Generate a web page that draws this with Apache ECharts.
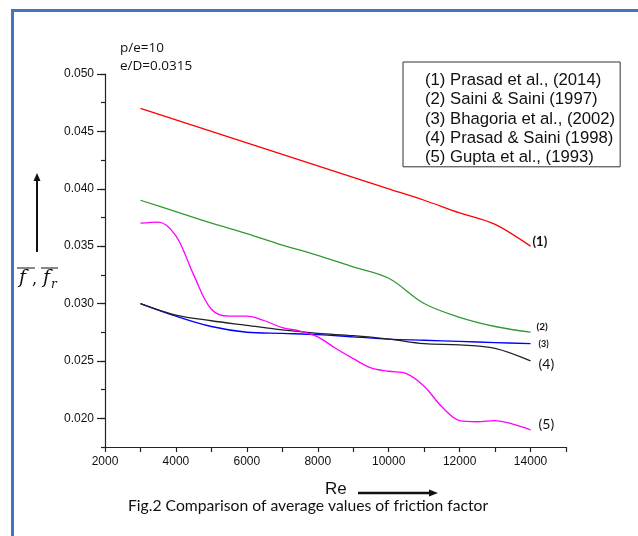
<!DOCTYPE html>
<html lang="en">
<head>
    <meta charset="UTF-8">
    <title>Comparison of average values of friction factor</title>
    <style type="text/css">
        *{
            margin: 0;
            padding: 0;
        }
        body{
            background: #fff;
        }
        #main{
            width: 638px;
            height: 536px;
        }
    </style>
</head>
<body>
    <div id="main"></div>
    <script src="https://cdn.jsdelivr.net/npm/echarts@6/dist/echarts.min.js"></script>
    <script type="text/javascript">
        // data
        var seriesNames = ['(1) Prasad et al., (2014)', '(2) Saini & Saini (1997)', '(3) Bhagoria et al., (2002)', '(4) Prasad & Saini (1998)', '(5) Gupta et al., (1993)'];
        var endTags = ['(1)', '(2)', '(3)', '(4)', '(5)'];
        var reValues = [3000, 4000, 5000, 6000, 7000, 8000, 9000, 10000, 11000, 12000, 13000, 14000];
        var prasad2014 = [0.0470, 0.0460, 0.0450, 0.0440, 0.0430, 0.0420, 0.0410, 0.0400, 0.0390, 0.0379, 0.0369, 0.0350];
        var saini1997 = [0.0390, 0.0380, 0.0370, 0.0361, 0.0351, 0.0342, 0.0332, 0.0322, 0.0300, 0.0288, 0.0280, 0.0275];
        var bhagoria2002 = [0.0300, 0.0289, 0.0280, 0.0275, 0.0274, 0.0273, 0.0271, 0.0269, 0.0268, 0.0267, 0.0266, 0.0265];
        var prasad1998 = [0.0300, 0.0290, 0.0285, 0.0281, 0.0277, 0.0274, 0.0272, 0.0269, 0.0265, 0.0264, 0.0261, 0.0250];
        // Gupta curve has more wiggles, so it is read every 500
        var guptaRe = [3000, 3500, 4000, 4500, 5000, 5500, 6000, 6500, 7000, 7500, 8000, 8500, 9000, 9500, 10000, 10500, 11000, 11500, 12000, 12500, 13000, 13500, 14000];
        var gupta1993 = [0.0370, 0.0371, 0.0359, 0.0325, 0.0295, 0.0289, 0.0289, 0.0285, 0.0279, 0.0276, 0.0271, 0.0261, 0.0252, 0.0244, 0.0241, 0.0239, 0.0228, 0.0210, 0.0198, 0.0197, 0.0198, 0.0195, 0.0190];
        var yMajor = [0.020, 0.025, 0.030, 0.035, 0.040, 0.045, 0.050];

        function pairs(xs, ys) {
            return xs.map(function (x, i) { return [x, ys[i]]; });
        }

        var lineColors = ['#ff0000', '#339933', '#0000ff', '#222222', '#ff00ff'];
        var tagStyle = [
            {fontSize: 13, fontWeight: 'bold', offset: [2, -4]},
            {fontSize: 10, fontWeight: 'bold', offset: [6, -5]},
            {fontSize: 9, fontWeight: 'bold', offset: [8, 0]},
            {fontSize: 14, fontWeight: 'normal', offset: [8, 4]},
            {fontSize: 14, fontWeight: 'normal', offset: [8, -5]}
        ];
        var allData = [
            pairs(reValues, prasad2014),
            pairs(reValues, saini1997),
            pairs(reValues, bhagoria2002),
            pairs(reValues, prasad1998),
            pairs(guptaRe, gupta1993)
        ];

        var series = allData.map(function (d, i) {
            return {
                name: seriesNames[i],
                type: 'line',
                data: d,
                smooth: 0.35,
                showSymbol: false,
                symbol: 'none',
                lineStyle: {color: lineColors[i], width: 1.3},
                itemStyle: {color: lineColors[i]},
                endLabel: {
                    show: true,
                    formatter: endTags[i],
                    distance: 0,
                    offset: tagStyle[i].offset,
                    fontFamily: 'Lato',
                    fontSize: tagStyle[i].fontSize,
                    fontWeight: tagStyle[i].fontWeight,
                    color: '#111'
                }
            };
        });

        var myChart = echarts.init(document.getElementById('main'));

        var option = {
            animation: false,
            backgroundColor: '#fff',
            grid: {
                left: 105,
                right: 72,
                top: 74,
                bottom: 89
            },
            legend: {
                orient: 'vertical',
                left: 403,
                top: 62,
                itemWidth: 0,
                itemHeight: 0,
                itemGap: 2.2,
                padding: [10, 5, 1, 16],
                borderColor: '#333',
                borderWidth: 1,
                selectedMode: false,
                textStyle: {
                    fontFamily: 'Liberation Sans',
                    fontSize: 16.7,
                    color: '#111'
                },
                data: seriesNames
            },
            xAxis: {
                type: 'value',
                min: 2000,
                max: 15000,
                interval: 1000,
                splitLine: {show: false},
                axisLine: {lineStyle: {color: '#222', width: 1.2}},
                axisTick: {length: 5, lineStyle: {color: '#222', width: 1.2}},
                axisLabel: {
                    margin: 9,
                    fontFamily: 'Liberation Sans',
                    fontSize: 12,
                    color: '#111',
                    formatter: function (v) {
                        return (v % 2000 === 0 && v < 15000) ? String(v) : '';
                    }
                }
            },
            yAxis: [{
                type: 'value',
                min: 0.0175,
                max: 0.050,
                interval: 0.0025,
                splitLine: {show: false},
                axisLine: {show: true, lineStyle: {color: '#222', width: 1.2}},
                axisTick: {length: 4, lineStyle: {color: '#222', width: 1.2}},
                axisLabel: {
                    margin: 11,
                    fontFamily: 'Liberation Sans',
                    fontSize: 12,
                    color: '#111',
                    formatter: function (v) {
                        return Math.round(v * 10000) % 50 === 0 ? v.toFixed(3) : '';
                    }
                }
            }, {
                type: 'value',
                min: 0.0175,
                max: 0.050,
                position: 'left',
                splitLine: {show: false},
                axisLine: {show: false},
                axisLabel: {show: false},
                axisTick: {
                    show: true,
                    length: 8,
                    customValues: yMajor,
                    lineStyle: {color: '#222', width: 1.2}
                }
            }],
            graphic: [
                // blue frame of the figure
                {type: 'rect', shape: {x: 11, y: 9, width: 3, height: 527}, style: {fill: '#4472c4'}, silent: true},
                {type: 'rect', shape: {x: 11, y: 9, width: 627, height: 3}, style: {fill: '#4472c4'}, silent: true},
                // parameter notes
                {type: 'text', left: 120, top: 41, style: {text: 'p/e=10', font: '13.5px "Open Sans"', fill: '#111'}},
                {type: 'text', left: 120, top: 59, style: {text: 'e/D=0.0315', font: '13.5px "Open Sans"', fill: '#111'}},
                // y name with upward arrow
                {type: 'line', shape: {x1: 37, y1: 252, x2: 37, y2: 180}, style: {stroke: '#111', lineWidth: 2}},
                {type: 'polygon', shape: {points: [[33.5, 181], [40.5, 181], [37, 173]]}, style: {fill: '#111'}},
                {type: 'text', left: 19, top: 269, style: {text: 'f', font: 'italic 19px "DejaVu Serif"', fill: '#111'}},
                {type: 'text', left: 32, top: 272, style: {text: ',', font: '16px "DejaVu Serif"', fill: '#111'}},
                {type: 'text', left: 43, top: 269, style: {text: 'f', font: 'italic 19px "DejaVu Serif"', fill: '#111'}},
                {type: 'text', left: 51, top: 279, style: {text: 'r', font: 'italic 12px "DejaVu Serif"', fill: '#111'}},
                {type: 'line', shape: {x1: 17, y1: 268, x2: 35, y2: 268}, style: {stroke: '#111', lineWidth: 1}},
                {type: 'line', shape: {x1: 41, y1: 268, x2: 58, y2: 268}, style: {stroke: '#111', lineWidth: 1}},
                // x name with arrow
                {type: 'text', left: 325, top: 481, style: {text: 'Re', font: '17px "Liberation Sans"', fill: '#111'}},
                {type: 'line', shape: {x1: 358, y1: 493, x2: 430, y2: 493}, style: {stroke: '#111', lineWidth: 2.5}},
                {type: 'polygon', shape: {points: [[429, 489.5], [429, 496.5], [438, 493]]}, style: {fill: '#111'}},
                // caption
                {type: 'text', left: 128, top: 498, style: {text: 'Fig.2 Comparison of average values of friction factor', font: '15.7px Lato', fill: '#111'}}
            ],
            series: series
        };

        myChart.setOption(option);
    </script>
</body>
</html>
